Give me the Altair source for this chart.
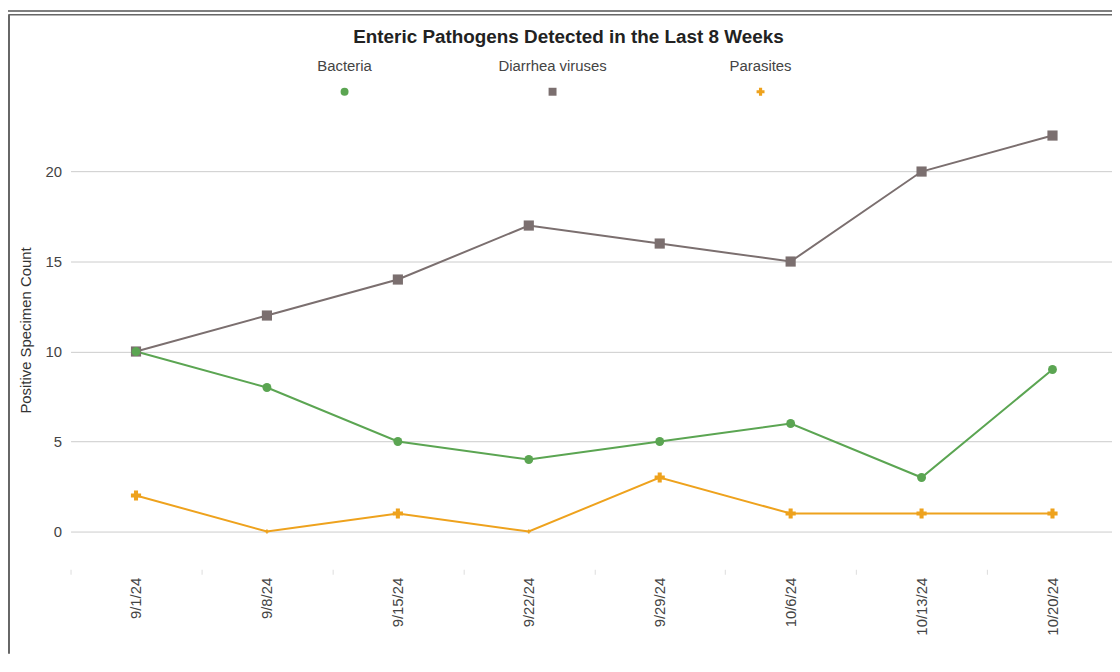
import altair as alt
import pandas as pd

# ---- data ----
weeks = ["9/1/24", "9/8/24", "9/15/24", "9/22/24", "9/29/24", "10/6/24", "10/13/24", "10/20/24"]
bacteria = [10, 8, 5, 4, 5, 6, 3, 9]
diarrhea_viruses = [10, 12, 14, 17, 16, 15, 20, 22]
parasites = [2, 0, 1, 0, 3, 1, 1, 1]

series_names = ["Bacteria", "Diarrhea viruses", "Parasites"]
series_colors = ["#5ba552", "#7b6f6f", "#eea21d"]
series_shapes = ["circle", "square", "cross"]
y_ticks = [0, 5, 10, 15, 20]

rows = []
for name, vals in [("Diarrhea viruses", diarrhea_viruses), ("Bacteria", bacteria), ("Parasites", parasites)]:
    for w, v in zip(weeks, vals):
        rows.append({"week": w, "series": name, "count": v})
df = pd.DataFrame(rows)
legend_df = pd.DataFrame({"series": series_names})
one = pd.DataFrame({"k": [0]})

FONT = "Liberation Sans"
W, H = 1049, 455
PAD_L, PAD_T, PAD_B = 63, 108, 85

color_enc = alt.Color("series:N", scale=alt.Scale(domain=series_names, range=series_colors), legend=None)
shape_enc = alt.Shape("series:N", scale=alt.Scale(domain=series_names, range=series_shapes), legend=None)

x_enc = alt.X(
    "week:O", sort=weeks, bandPosition=0.5,
    scale=alt.Scale(type="band", paddingInner=0, paddingOuter=0, range=[0, 1055]),
    axis=alt.Axis(title=None, labelAngle=-90, tickBand="extent", ticks=True, tickSize=5,
                  tickColor="#dddddd", domain=False, grid=False, labelFont=FONT,
                  labelFontSize=15, labelColor="#444444", labelPadding=3),
)
y_enc = alt.Y(
    "count:Q",
    scale=alt.Scale(domain=[-2.1, 23], nice=False, zero=False),
    axis=alt.Axis(values=y_ticks, title="Positive Specimen Count", grid=True, gridColor="#cccccc",
                  gridWidth=1, ticks=False, domain=False, labelPadding=9, labelFont=FONT,
                  labelFontSize=15, labelColor="#444444", titleFont=FONT, titleFontSize=15,
                  titleFontWeight="normal", titleColor="#333333", titlePadding=12, titleY=214),
)

lines = alt.Chart(df).mark_line(strokeWidth=2).encode(x=x_enc, y=y_enc, color=color_enc, detail="series:N")

points = alt.Chart(df).transform_calculate(
    msize="datum.count == 0 ? 18 : (datum.series == 'Bacteria' ? 80 : 105)"
).mark_point(filled=True, opacity=1).encode(
    x=x_enc, y=y_enc, color=color_enc, shape=shape_enc,
    size=alt.Size("msize:Q", scale=None, legend=None),
)

main = alt.layer(lines, points)

leg_x = alt.X("series:N", sort=series_names,
              scale=alt.Scale(type="point", domain=series_names, range=[276, 695], padding=0),
              axis=None)
leg_text = alt.Chart(legend_df).mark_text(
    font=FONT, fontSize=15, color="#444444", baseline="alphabetic", align="center"
).encode(x=leg_x, y=alt.value(-47), text="series:N")
leg_sym = alt.Chart(legend_df).mark_point(filled=True, opacity=1, size=64).encode(
    x=leg_x, y=alt.value(-26), color=color_enc, shape=shape_enc)
legend_layer = alt.layer(leg_text, leg_sym)

# decorative frame around the panel
frame_top1 = alt.Chart(one).mark_rule(color="#555555", strokeWidth=1.5).encode(
    x=alt.value(-PAD_L), x2=alt.value(W), y=alt.value(-PAD_T + 0.75))
frame_top2 = alt.Chart(one).mark_rule(color="#666666", strokeWidth=1.5).encode(
    x=alt.value(-PAD_L + 1), x2=alt.value(W), y=alt.value(-PAD_T + 4.5))
frame_left = alt.Chart(one).mark_rule(color="#666666", strokeWidth=2).encode(
    x=alt.value(-PAD_L + 1), y=alt.value(-PAD_T + 4), y2=alt.value(H + PAD_B))

chart = alt.layer(
    frame_top1, frame_top2, frame_left, main, legend_layer
).resolve_scale(x="independent").properties(
    width=W, height=H,
    autosize=alt.AutoSizeParams(type="none"),
    padding={"left": PAD_L, "top": PAD_T, "right": 0, "bottom": PAD_B},
    background="white",
    title=alt.TitleParams(
        "Enteric Pathogens Detected in the Last 8 Weeks",
        font=FONT, fontSize=19, fontWeight="bold", color="#222222",
        anchor="middle", frame="group", offset=-52, baseline="alphabetic", dx=-23,
    ),
).configure_view(stroke=None)

chart.save("out.html", embed_options={"renderer": "svg", "actions": False})
